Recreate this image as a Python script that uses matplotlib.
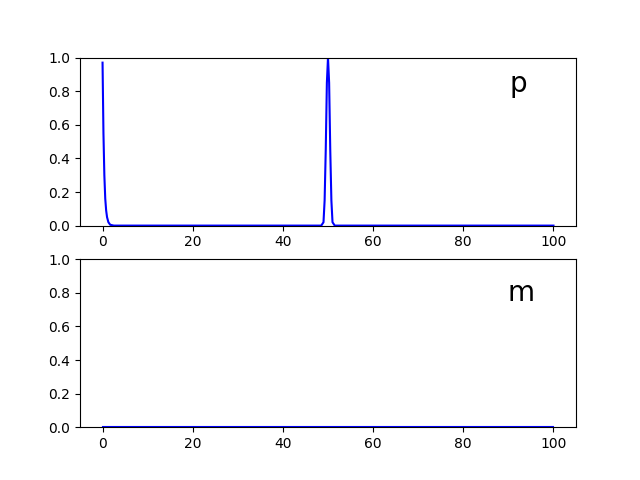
# two panels: p and m profiles
import matplotlib
matplotlib.use('Agg')
import matplotlib.pyplot as plt

# p: fast decay at the left edge and a narrow peak at x = 50
p_x = [0, 0.2, 0.4, 0.6, 0.8, 1.0, 1.3, 1.7, 2.5, 48.5, 49.0, 49.25, 49.5, 49.75, 50.0,
       50.25, 50.5, 50.75, 51.0, 51.5, 100]
p_y = [0.97, 0.55, 0.30, 0.16, 0.09, 0.05, 0.02, 0.005, 0.0, 0.0, 0.02, 0.15, 0.45, 0.85, 1.0,
       0.85, 0.45, 0.15, 0.02, 0.0, 0.0]

# m: flat at zero
m_x = [0, 100]
m_y = [0.0, 0.0]

fig, (ax1, ax2) = plt.subplots(2, 1)

ax1.plot(p_x, p_y, c='b')
ax1.set_ylim(0, 1)
ax1.text(0.8845, 0.798, 'p', transform=ax1.transAxes, fontsize=20,
         ha='center', va='baseline')

ax2.plot(m_x, m_y, c='b')
ax2.set_ylim(0, 1)
ax2.text(0.889, 0.751, 'm', transform=ax2.transAxes, fontsize=20,
         ha='center', va='baseline')

fig.savefig('out.png')
